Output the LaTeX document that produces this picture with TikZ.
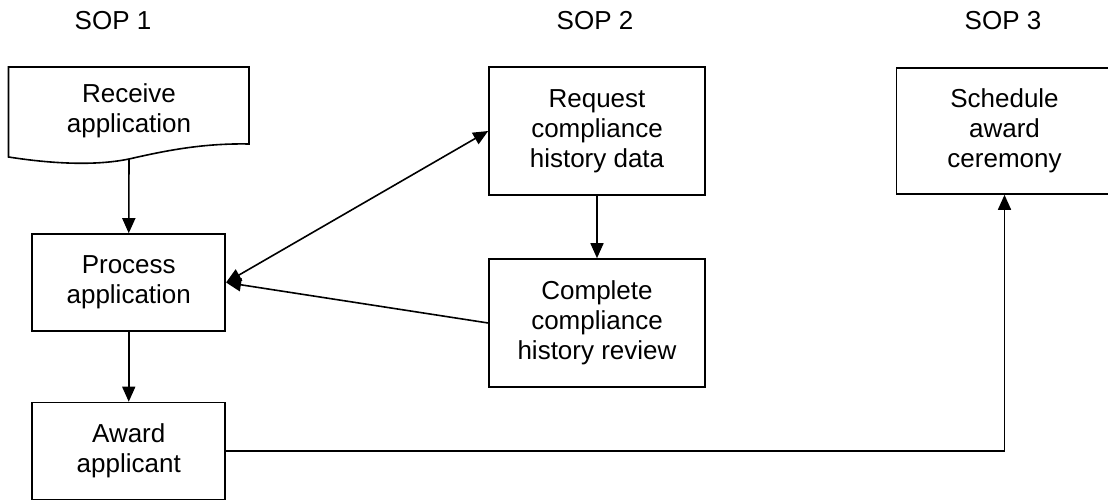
\documentclass[tikz,border=0pt]{standalone}
\usepackage{fontspec}
\setmainfont{Liberation Sans}
\usetikzlibrary{arrows.meta}
\begin{document}
\begin{tikzpicture}[x=1pt,y=-1pt,
  every node/.style={font=\fontsize{26}{30}\selectfont, align=center, inner sep=0pt},
  box/.style={draw, line width=1.6pt, minimum width=193pt, minimum height=97pt},
  bigbox/.style={draw, line width=1.6pt, minimum width=216pt, minimum height=128pt},
  lab/.style={},
  conn/.style={line width=1.6pt, -{Triangle[length=15pt,width=13pt]}},
  dconn/.style={line width=1.6pt, {Triangle[length=15pt,width=13pt]}-{Triangle[length=15pt,width=13pt]}}
]
\useasboundingbox (0,0) rectangle (1108,500);
\clip (0,0) rectangle (1108,500);
% column titles
\node[lab] (sop1) at (113,21) {SOP 1};
\node[lab] (sop2) at (595,21) {SOP 2};
\node[lab] (sop3) at (1003,21) {SOP 3};
% document shape
\draw[line width=1.6pt, line join=miter] (8.5,67) -- (249,67) -- (249,144)
  .. controls (200,143) and (160,152) .. (129,159)
  .. controls (100,165) and (60,165) .. (8.5,157) -- cycle;
\coordinate (rcvb) at (129,159);
\node (rcv) at (129,111) {Receive\\application};
% boxes
\node[box] (proc) at (128.75,282.5) {Process\\application};
\node[box] (award) at (128.75,451) {Award\\applicant};
\node[bigbox] (req) at (597,131) {Request\\compliance\\history data};
\node[bigbox] (comp) at (597,323) {Complete\\compliance\\history review};
\node[bigbox, minimum height=126pt] (sched) at (1004.5,131) {Schedule\\award\\ceremony};
% connectors
\draw[conn] (rcvb) -- (proc.north);
\draw[conn] (proc.south) -- (award.north);
\draw[conn] (req.south) -- (comp.north);
\draw[dconn] (proc.east) -- (req.west);
\draw[conn] (comp.west) -- (proc.east);
\draw[conn] (award.east) -| (sched.south);
\end{tikzpicture}
\end{document}
